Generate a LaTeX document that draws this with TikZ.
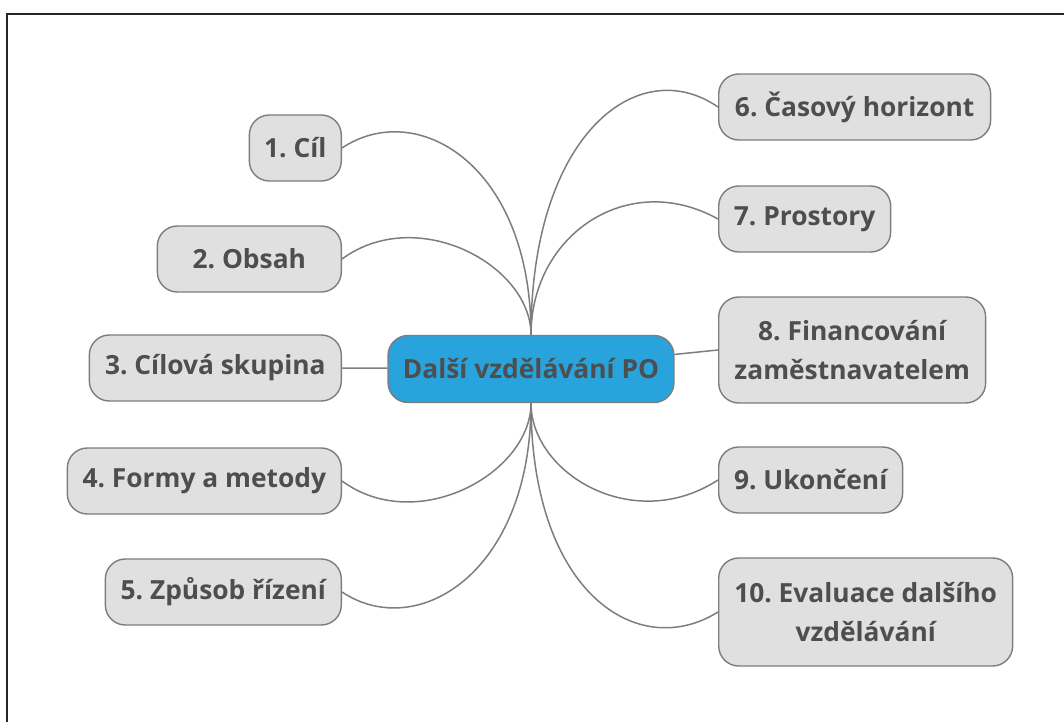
\documentclass[tikz,border=0pt]{standalone}
\usepackage{fontspec}
\setmainfont{Open Sans}
\usepackage{tikz}
\usetikzlibrary{positioning}
\definecolor{hubblue}{RGB}{41, 163, 220}
\definecolor{boxgray}{RGB}{224, 224, 224}
\definecolor{edgegray}{RGB}{125, 125, 125}
\definecolor{textgray}{RGB}{78, 78, 78}
\frenchspacing

\begin{document}
\begin{tikzpicture}[
    x=0.02cm, y=-0.02cm,
    topic/.style={
      rectangle,
      draw=edgegray,
      fill=boxgray,
      line width=0.8pt,
      rounded corners=0.4cm,
      minimum height=1.32cm,
      inner xsep=2pt,
      align=center,
      text=textgray,
      font=\bfseries\fontsize{15}{22}\selectfont
    },
    hub/.style={
      topic,
      fill=hubblue,
      minimum height=1.34cm
    },
    link/.style={
      line width=0.85pt,
      edgegray
    }
  ]

    \useasboundingbox (0,0) rectangle (1064,722);
    \draw[line width=1.3pt, black!85] (7,722) -- (7,14) -- (1064,14);

    % Centre
    \node[hub, minimum width=5.72cm] (c) at (531,369) {Další vzdělávání PO};

    % Left branches
    \node[topic, anchor=east, minimum width=1.84cm] (n1) at (342,148) {1. Cíl};
    \node[topic, anchor=east, minimum width=3.68cm] (n2) at (342,259) {2. Obsah};
    \node[topic, anchor=east, minimum width=5.04cm] (n3) at (342,368) {3. Cílová skupina};
    \node[topic, anchor=east, minimum width=5.48cm] (n4) at (342,481) {4. Formy a metody};
    \node[topic, anchor=east, minimum width=4.72cm] (n5) at (342,592) {5. Způsob řízení};

    % Right branches
    \node[topic, anchor=west, minimum width=5.44cm] (n6) at (718,107) {6. Časový horizont};
    \node[topic, anchor=west, minimum width=3.44cm] (n7) at (718,219) {7. Prostory};
    \node[topic, anchor=west, minimum width=5.34cm, minimum height=2.12cm] (n8) at (718,350) {8. Financování\\zaměstnavatelem};
    \node[topic, anchor=west, minimum width=3.68cm] (n9) at (718,480) {9. Ukončení};
    \node[topic, anchor=west, minimum width=5.88cm, minimum height=2.16cm] (n10) at (718,612) {10. Evaluace dalšího\\vzdělávání};

    % Connections
    \draw[link] (c.north) .. controls +(0,-170) and +(75,-50) .. (n1.east);
    \draw[link] (c.north) .. controls +(0,-70) and +(75,-55) .. (n2.east);
    \draw[link] (c) -- (n3.east);
    \draw[link] (c.south) .. controls +(0,70) and +(75,55) .. (n4.east);
    \draw[link] (c.south) .. controls +(0,170) and +(75,50) .. (n5.east);
    \draw[link] (c.north) .. controls +(0,-200) and +(-80,-55) .. (n6.west);
    \draw[link] (c.north) .. controls +(0,-100) and +(-90,-50) .. (n7.west);
    \draw[link] (c) -- (n8.west);
    \draw[link] (c.south) .. controls +(0,70) and +(-85,55) .. (n9.west);
    \draw[link] (c.south) .. controls +(0,190) and +(-80,50) .. (n10.west);

\end{tikzpicture}
\end{document}
